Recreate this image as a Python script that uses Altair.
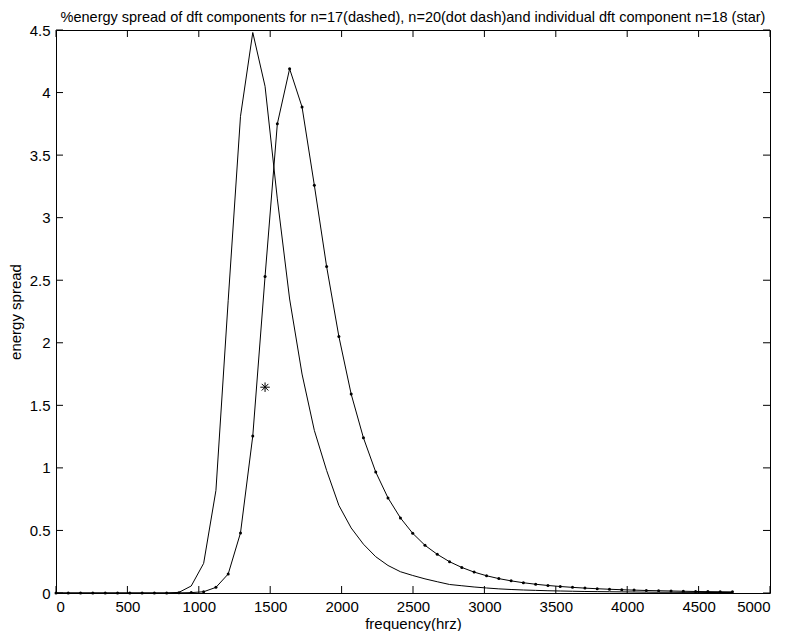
import altair as alt
import pandas as pd

# frequency bins (Hz)
freqs = [0, 86, 172, 258, 345, 431, 517, 603, 689, 775, 861, 947, 1034, 1120, 1206,
         1292, 1378, 1464, 1550, 1636, 1723, 1809, 1895, 1981, 2067, 2153, 2239, 2325,
         2412, 2498, 2584, 2670, 2756, 2842, 2928, 3015, 3101, 3187, 3273, 3359, 3445,
         3531, 3617, 3704, 3790, 3876, 3962, 4048, 4134, 4220, 4307, 4393, 4479, 4565,
         4651, 4737]

# n=17 (plain line)
spread_n17 = [0, 0, 0, 0, 0, 0, 0, 0, 0, 0, 0.005, 0.056, 0.237, 0.82, 2.34,
              3.81, 4.48, 4.05, 3.15, 2.35, 1.75, 1.30, 0.98, 0.70, 0.52, 0.39, 0.29, 0.22,
              0.17, 0.14, 0.113, 0.09, 0.068, 0.058, 0.048, 0.04, 0.033, 0.028, 0.024, 0.021, 0.018,
              0.016, 0.014, 0.012, 0.011, 0.010, 0.009, 0.008, 0.007, 0.006, 0.006, 0.005, 0.005, 0.004,
              0.004, 0.004]

# n=20 (line with dots)
spread_n20 = [0, 0, 0, 0, 0, 0, 0, 0, 0, 0, 0.001, 0.003, 0.01, 0.045, 0.152,
              0.48, 1.255, 2.53, 3.75, 4.19, 3.885, 3.26, 2.61, 2.05, 1.59, 1.24, 0.967, 0.76,
              0.60, 0.477, 0.381, 0.309, 0.250, 0.204, 0.167, 0.138, 0.115, 0.097, 0.082, 0.070, 0.060,
              0.052, 0.045, 0.039, 0.034, 0.030, 0.026, 0.023, 0.020, 0.018, 0.016, 0.014, 0.012, 0.011,
              0.010, 0.009]

# n=18 single component (star)
star_freq = [1464]
star_value = [1.645]

x_ticks = [0, 500, 1000, 1500, 2000, 2500, 3000, 3500, 4000, 4500, 5000]
y_ticks = [0, 0.5, 1, 1.5, 2, 2.5, 3, 3.5, 4, 4.5]

title_text = ("%energy spread of dft components for n=17(dashed), n=20(dot dash)"
              "and individual dft component n=18 (star)")

W, H = 714, 563
FONT = "Liberation Sans"

xsc = alt.Scale(domain=[0, 5000], nice=False, zero=False)
ysc = alt.Scale(domain=[0, 4.5], nice=False, zero=False)
xaxis = alt.Axis(values=x_ticks, format="d", title="frequency(hrz)")
yaxis = alt.Axis(values=y_ticks, format="~g", title="energy spread")


def X(field):
    return alt.X(field, type="quantitative", scale=xsc, axis=xaxis)


def Y(field):
    return alt.Y(field, type="quantitative", scale=ysc, axis=yaxis)


df = pd.DataFrame({"f": freqs, "n17": spread_n17, "n20": spread_n20})
base = alt.Chart(df)

line17 = base.mark_line(color="black", strokeWidth=1).encode(x=X("f"), y=Y("n17"))
line20 = base.mark_line(color="black", strokeWidth=1).encode(x=X("f"), y=Y("n20"))
dots20 = base.mark_circle(color="black", size=9, opacity=1).encode(x=X("f"), y=Y("n20"))

star_path = "M-1,0L1,0M0,-1L0,1M-0.7,-0.7L0.7,0.7M-0.7,0.7L0.7,-0.7"
star = alt.Chart(pd.DataFrame({"f": star_freq, "v": star_value})).mark_point(
    shape=star_path, size=90, filled=False, stroke="black", strokeWidth=1, opacity=1
).encode(x=X("f"), y=Y("v"))

xt = alt.Chart(pd.DataFrame({"t": x_ticks}))
yt = alt.Chart(pd.DataFrame({"t": y_ticks}))
TL = 7
xt_bottom = xt.mark_rule(color="black", strokeWidth=1).encode(x=X("t"), y=alt.value(H), y2=alt.value(H - TL))
xt_top = xt.mark_rule(color="black", strokeWidth=1).encode(x=X("t"), y=alt.value(0), y2=alt.value(TL))
yt_left = yt.mark_rule(color="black", strokeWidth=1).encode(y=Y("t"), x=alt.value(0), x2=alt.value(TL))
yt_right = yt.mark_rule(color="black", strokeWidth=1).encode(y=Y("t"), x=alt.value(W), x2=alt.value(W - TL))

title = alt.Chart(pd.DataFrame({"label": [title_text]})).mark_text(
    font=FONT, fontSize=14.5, color="black", align="center", baseline="alphabetic"
).encode(text="label:N", x=alt.value(W / 2), y=alt.value(-8))

chart = alt.layer(
    xt_bottom, xt_top, yt_left, yt_right, line17, line20, dots20, star, title
).properties(
    width=W,
    height=H,
    autosize=alt.AutoSizeParams(type="none"),
    padding={"left": 48, "top": 22, "right": 29, "bottom": 38},
).configure_view(
    stroke="black", strokeWidth=1
).configure_axis(
    grid=False, ticks=False, domain=False,
    labelFont=FONT, labelFontSize=15, labelColor="black",
    titleFont=FONT, titleFontSize=15, titleFontWeight="normal", titleColor="black",
    labelPadding=6,
).configure_axisY(
    titlePadding=6
).configure_axisX(
    titlePadding=2
)

chart.save("out.html", embed_options={"renderer": "svg", "actions": False})
